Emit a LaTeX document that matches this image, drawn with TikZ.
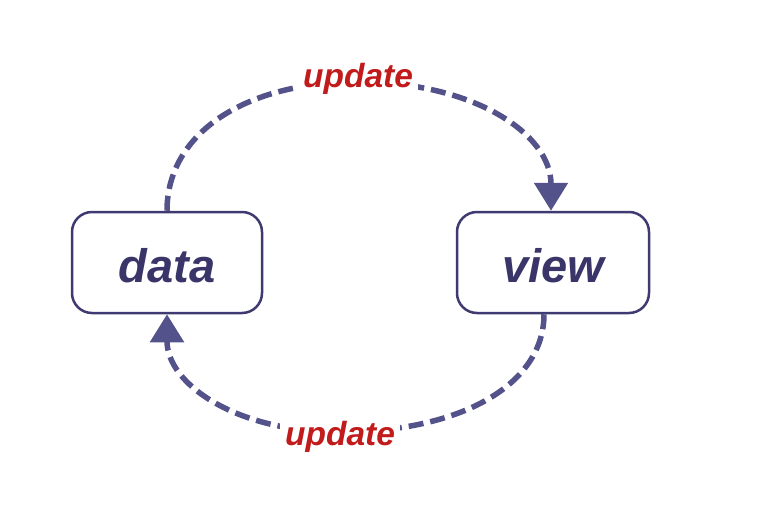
\documentclass[tikz,border=0pt]{standalone}
\usepackage{fontspec}
\setmainfont{Liberation Sans}
\usetikzlibrary{arrows.meta}
\definecolor{flowc}{HTML}{54528A}
\definecolor{boxc}{HTML}{3F3B72}
\definecolor{txtc}{HTML}{3A3568}
\definecolor{redc}{HTML}{C11B1B}
\tikzset{
  box/.style={draw=boxc, line width=2.5pt, rounded corners=20pt, minimum width=190pt, minimum height=101pt, fill=white, text=txtc, font=\fontsize{47}{47}\selectfont\bfseries\itshape, inner sep=0pt},
  flow/.style={draw=flowc, line width=5.5pt, dash pattern=on 15pt off 7pt, -{Triangle[length=28pt,width=33pt]}},
  lbl/.style={fill=white, text=redc, font=\fontsize{33.5}{33.5}\selectfont\bfseries\itshape, inner sep=5pt}
}
\begin{document}
\begin{tikzpicture}[x=1pt,y=-1pt]
\useasboundingbox (0,0) rectangle (764,520);
\node[box] (data) at (167,262.5) {\raisebox{-3pt}[\height][\depth]{data}};
\node[box, minimum width=192pt] (view) at (553,262.5) {\raisebox{-3pt}[\height][\depth]{view}};
\draw[flow] (data.north) .. controls (167,134) and (244,82) .. (358,82)
  node[lbl, yshift=3pt] (u1) {update}
  .. controls (474,82) and (551,134) .. ([xshift=-2pt]view.north);
\draw[flow] ([xshift=-9pt]view.south) .. controls (544,384) and (462,432) .. (340,432)
  node[lbl, yshift=-5pt] (u2) {update}
  .. controls (236,432) and (167,384) .. (data.south);
\end{tikzpicture}
\end{document}
